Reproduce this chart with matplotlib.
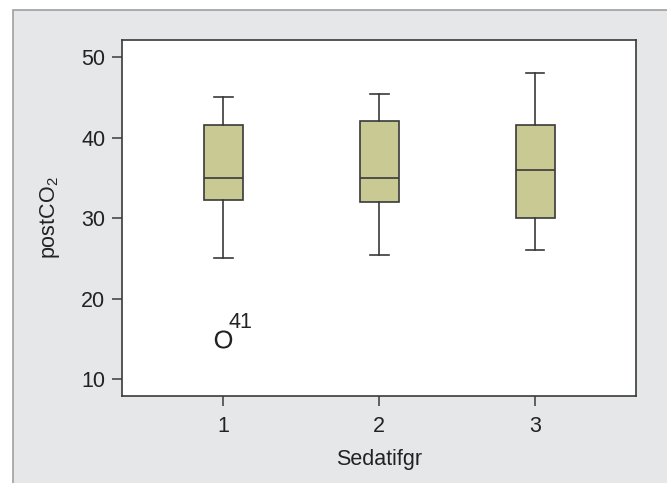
import matplotlib
matplotlib.use("Agg")
import matplotlib.pyplot as plt
from matplotlib.patches import Rectangle

plt.rcParams["font.family"] = ["Liberation Sans", "DejaVu Sans"]
plt.rcParams["mathtext.fontset"] = "custom"
plt.rcParams["mathtext.rm"] = "Liberation Sans"

# 박스플롯 요약값
groups = ["1", "2", "3"]
whisker_low = [25.0, 25.4, 26.0]
q1 = [32.2, 32.0, 30.0]
median = [35.0, 35.0, 36.0]
q3 = [41.6, 42.0, 41.5]
whisker_high = [45.0, 45.4, 48.0]
outliers = [[15.0], [], []]
outlier_ids = [["41"], [], []]

BOX_FILL = "#c9c994"
EDGE = "#3a3a3a"
PANEL = "#e6e7e9"
TXT = "#222222"
FS = 15.5

fig = plt.figure(figsize=(6.67, 4.83), dpi=100)
fig.patch.set_facecolor("white")
fig.patches.append(Rectangle((13 / 667, -0.01), 1.0, 1 - 10 / 483 + 0.01,
                             transform=fig.transFigure, facecolor=PANEL,
                             edgecolor="#a0a0a0", linewidth=1.2, zorder=-10))

ax = fig.add_axes([0.183, 0.180, 0.771, 0.737])
ax.set_facecolor("white")
ax.set_zorder(1)

stats = []
for i, g in enumerate(groups):
    stats.append({"label": g, "whislo": whisker_low[i], "q1": q1[i],
                  "med": median[i], "q3": q3[i], "whishi": whisker_high[i],
                  "fliers": outliers[i]})

ax.bxp(stats, positions=[1, 2, 3], widths=0.25, patch_artist=True,
       showfliers=True,
       boxprops=dict(facecolor=BOX_FILL, edgecolor=EDGE, linewidth=1.2),
       medianprops=dict(color=EDGE, linewidth=1.2),
       whiskerprops=dict(color=EDGE, linewidth=1.2),
       capprops=dict(color=EDGE, linewidth=1.2),
       capwidths=0.12,
       flierprops=dict(marker="$\\mathrm{O}$", markerfacecolor=TXT,
                       markeredgecolor=TXT, markersize=13,
                       markeredgewidth=0))

for i, (vals, ids) in enumerate(zip(outliers, outlier_ids)):
    for v, label in zip(vals, ids):
        ax.annotate(label, (i + 1, v), xytext=(4, 4), textcoords="offset points",
                    fontsize=FS, color=TXT, ha="left", va="bottom")

ax.set_xlim(0.35, 3.65)
ax.set_ylim(7.9, 52.1)
ax.set_yticks([10, 20, 30, 40, 50])
ax.set_xticks([1, 2, 3])
ax.set_xticklabels(groups)
ax.tick_params(axis="both", direction="out", length=7, width=1.1,
               color=EDGE, labelsize=FS, labelcolor=TXT)
ax.tick_params(axis="x", pad=7)
ax.tick_params(axis="y", pad=5)
for s in ax.spines.values():
    s.set_color(EDGE)
    s.set_linewidth(1.2)

ax.set_xlabel("Sedatifgr", fontsize=FS, color=TXT, labelpad=9)
ax.set_ylabel("postCO$_2$", fontsize=FS, color=TXT, labelpad=14)

fig.savefig("out.png", dpi=100)
